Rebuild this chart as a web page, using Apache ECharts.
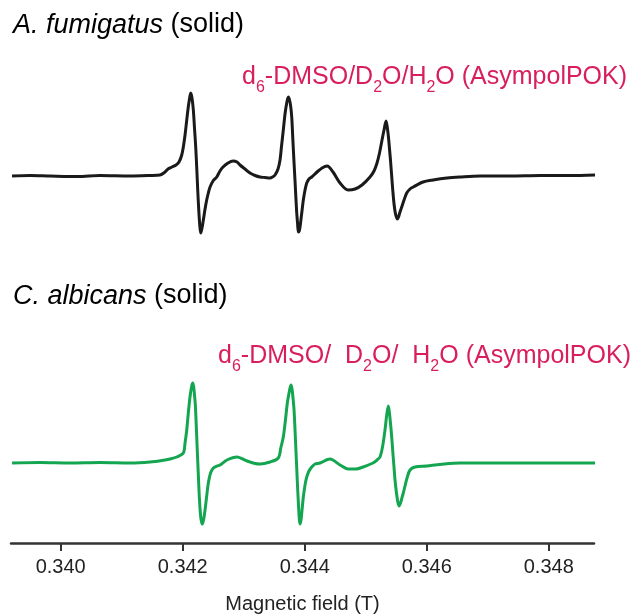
<!DOCTYPE html>
<html><head><meta charset="utf-8">
<script src="https://cdn.jsdelivr.net/npm/echarts@6/dist/echarts.min.js"></script>
<style>html,body{margin:0;padding:0;background:#fff}#c{width:639px;height:615px}</style>
</head><body><div id="c"></div>
<script>
// Magnetic field (T) and EPR derivative intensity (arb. units)
const fieldA = [
  0.339202,0.339497,0.339825,0.340284,0.340644,0.341136,0.341464,0.341628,0.341710,0.341759,
  0.341825,0.341890,0.341939,0.341984,0.342010,0.342038,0.342066,0.342087,0.342108,0.342131,
  0.342152,0.342174,0.342193,0.342213,0.342230,0.342246,0.342262,0.342279,0.342295,0.342313,
  0.342338,0.342366,0.342393,0.342420,0.342448,0.342497,0.342557,0.342611,0.342661,0.342743,
  0.342825,0.342890,0.342939,0.343021,0.343103,0.343185,0.343267,0.343349,0.343431,0.343472,
  0.343513,0.343562,0.343595,0.343620,0.343649,0.343677,0.343705,0.343731,0.343751,0.343769,
  0.343787,0.343805,0.343825,0.343841,0.343857,0.343869,0.343882,0.343895,0.343910,0.343923,
  0.343941,0.343959,0.343977,0.344005,0.344033,0.344070,0.344115,0.344202,0.344284,0.344366,
  0.344464,0.344579,0.344710,0.344825,0.344939,0.345070,0.345136,0.345185,0.345226,0.345267,
  0.345300,0.345333,0.345357,0.345374,0.345390,0.345407,0.345423,0.345443,0.345464,0.345485,
  0.345502,0.345518,0.345538,0.345562,0.345590,0.345628,0.345672,0.345726,0.345780,0.345939,
  0.346103,0.346333,0.346546,0.346874,0.347366,0.347857,0.348349,0.348759];
const intensityA = [
  0,0.5,0,-0.5,0.5,0,0.5,1,4,7,
  9,11,14,21,29,41,56,67,76,83,
  78,66,48,29,8,-14,-33,-49,-57,-53,
  -44,-33,-24,-17,-11,-5,-1,5,9,13,
  15,14,11,7,3,0.5,-1,-1.5,-2,-1,
  1,7,16,30,46,62,73,79,76,70,
  59,37,13,-5,-24,-37,-47,-56,-55,-51,
  -42,-33,-24,-14,-7,-3,-1,4,8,10,
  4,-7,-14,-13,-9,-1,5,13,23,36,
  46,55,47,38,27,15,2,-14,-28,-37,
  -41,-43,-41,-36,-31,-24,-17,-13,-11,-6,
  -4,-2,-1,0,0,0.5,0.5,1];

const fieldC = [
  0.339202,0.339661,0.340152,0.340644,0.341136,0.341464,0.341710,0.341792,0.341902,0.342010,
  0.342038,0.342066,0.342087,0.342108,0.342128,0.342148,0.342164,0.342180,0.342193,0.342207,
  0.342223,0.342239,0.342256,0.342272,0.342289,0.342305,0.342321,0.342341,0.342366,0.342393,
  0.342420,0.342456,0.342502,0.342562,0.342611,0.342726,0.342890,0.343054,0.343185,0.343267,
  0.343431,0.343567,0.343611,0.343649,0.343682,0.343715,0.343743,0.343759,0.343775,0.343792,
  0.343808,0.343825,0.343841,0.343857,0.343869,0.343885,0.343902,0.343913,0.343926,0.343943,
  0.343959,0.343977,0.344005,0.344033,0.344070,0.344115,0.344169,0.344251,0.344415,0.344579,
  0.344710,0.344841,0.344956,0.345120,0.345185,0.345234,0.345275,0.345316,0.345344,0.345370,
  0.345389,0.345407,0.345426,0.345444,0.345462,0.345480,0.345502,0.345523,0.345546,0.345570,
  0.345593,0.345616,0.345644,0.345677,0.345726,0.345808,0.346000,0.346218,0.346546,0.347202,
  0.347857,0.348759];
const intensityC = [
  0,0.5,0,0.5,0,1,3,4,6,10,
  20,33,47,60,70,77,80,76,68,58,
  36,12,-12,-34,-50,-58,-61,-57,-47,-33,
  -20,-10,-5,-3,-2,3,6,2,-0.5,-1,
  1,5,16,26,42,60,70,75,78,74,
  65,53,33,11,-5,-27,-47,-57,-61,-55,
  -45,-34,-22,-14,-8,-4,-1,0,4,-2,
  -6,-6,-4,0,3,6,16,33,48,57,
  50,39,26,11,-3,-17,-29,-38,-43,-40,
  -35,-30,-23,-15,-7,-4,-3,-1.5,0,0,
  0,0];

const tickValues = [0.340,0.342,0.344,0.346,0.348];
const fieldMin = 0.339185, fieldMax = 0.348742;
const xName = 'Magnetic field (T)';
const titleA = '{i|A. fumigatus} (solid)';
const titleC = '{i|C. albicans} (solid)';
const labelA = 'd{s|6}-DMSO/D{s|2}O/H{s|2}O (AsympolPOK)';
const labelC = 'd{s|6}-DMSO{g|/ }D{s|2}O{g|/ }H{s|2}O (AsympolPOK)';

const FONT = "'Liberation Sans', Arial, Helvetica, sans-serif";
const RED = '#d91e5d';
const toPairs = (xs, ys) => xs.map((x, i) => [x, ys[i]]);

const chart = echarts.init(document.getElementById('c'), null, {renderer: 'canvas'});
const titleRich = {i: {fontStyle: 'italic', fontSize: 27, fontFamily: FONT, fill: '#000', verticalAlign: 'middle'}};
const redRich = {
  s: {fontSize: 16, fontFamily: FONT, fill: RED, padding: [22, 0, 0, 0], verticalAlign: 'middle'},
  g: {fontSize: 25, fontFamily: FONT, fill: RED, padding: [0, 7, 0, 0], verticalAlign: 'middle'}
};
function textEl(x, y, text, size, color, rich) {
  return {type: 'text', x: x, y: y, silent: true,
    style: {text: text, fontSize: size, fontFamily: FONT, fill: color, rich: rich,
      align: 'left', verticalAlign: 'middle', textAlign: 'left', textVerticalAlign: 'middle'}};
}
chart.setOption({
  animation: false,
  backgroundColor: '#fff',
  grid: [
    {left: 11, right: 45, top: 56, height: 200},
    {left: 11, right: 45, top: 343, height: 200}
  ],
  xAxis: [
    {gridIndex: 0, type: 'value', min: fieldMin, max: fieldMax, show: false},
    {gridIndex: 1, type: 'value', min: fieldMin, max: fieldMax,
      axisLine: {onZero: false, lineStyle: {color: '#333', width: 2.5}},
      axisTick: {customValues: tickValues, length: 8, lineStyle: {color: '#333', width: 2}},
      axisLabel: {customValues: tickValues, formatter: v => v.toFixed(3), fontSize: 20, color: '#222', fontFamily: FONT, margin: 14},
      splitLine: {show: false},
      name: xName, nameLocation: 'middle', nameGap: 51,
      nameTextStyle: {fontSize: 20, color: '#222', fontFamily: FONT}}
  ],
  yAxis: [
    {gridIndex: 0, type: 'value', min: -80, max: 120, show: false},
    {gridIndex: 1, type: 'value', min: -80, max: 120, show: false}
  ],
  series: [
    {type: 'line', xAxisIndex: 0, yAxisIndex: 0, data: toPairs(fieldA, intensityA), showSymbol: false, symbol: 'none',
      smooth: 0.3, lineStyle: {color: '#1a1a1a', width: 3}},
    {type: 'line', xAxisIndex: 1, yAxisIndex: 1, data: toPairs(fieldC, intensityC), showSymbol: false, symbol: 'none',
      smooth: 0.3, lineStyle: {color: '#14a550', width: 3}}
  ],
  graphic: [
    textEl(13, 25, titleA, 27, '#000', titleRich),
    textEl(13, 296, titleC, 27, '#000', titleRich),
    textEl(242, 77, labelA, 25, RED, redRich),
    textEl(218, 356, labelC, 25, RED, redRich)
  ]
});
</script></body></html>
